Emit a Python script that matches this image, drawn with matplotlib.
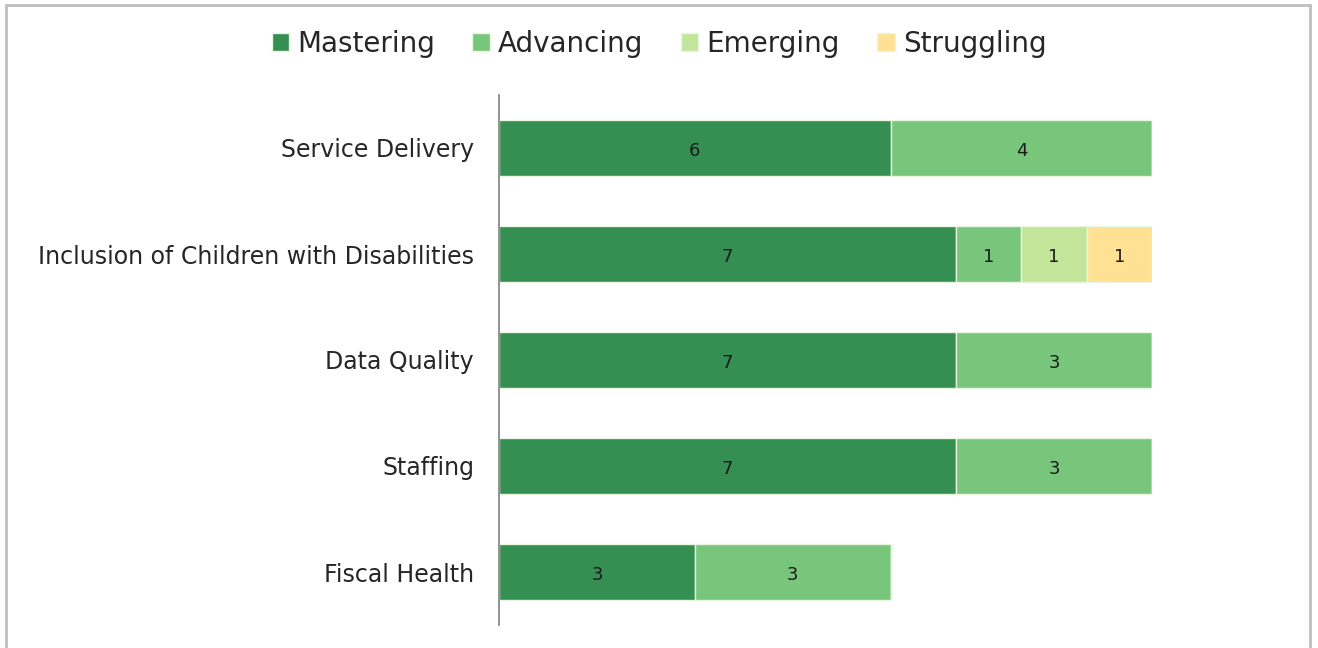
import matplotlib.pyplot as plt
from matplotlib.patches import Rectangle

categories = ["Service Delivery", "Inclusion of Children with Disabilities",
              "Data Quality", "Staffing", "Fiscal Health"]
mastering = [6, 7, 7, 7, 3]
advancing = [4, 1, 3, 3, 3]
emerging = [0, 1, 0, 0, 0]
struggling = [0, 1, 0, 0, 0]

series = [("Mastering", mastering, "#358f53"),
          ("Advancing", advancing, "#78c67b"),
          ("Emerging", emerging, "#c2e59a"),
          ("Struggling", struggling, "#ffe194")]

fig = plt.figure(figsize=(13.18, 6.48), dpi=100)
ax = fig.add_axes([499 / 1318, 1 - 625 / 648, (1152 - 499) / 1318, (625 - 95) / 648])

# outer grey frame (bottom edge is cut off in the original)
fig.patches.append(Rectangle((6 / 1318, -0.05), (1310 - 6) / 1318, 1.05 - 5 / 648,
                             transform=fig.transFigure, fill=False,
                             edgecolor="#bfbfbf", linewidth=2))

y = list(range(len(categories)))
left = [0] * len(categories)
for name, vals, color in series:
    bars = ax.barh(y, vals, left=left, height=0.53, color=color,
                   edgecolor="#e8f5e0", linewidth=1, label=name)
    for b, v in zip(bars, vals):
        if v > 0:
            ax.text(b.get_x() + b.get_width() / 2, b.get_y() + b.get_height() / 2 + 0.03,
                    str(v), ha="center", va="center", fontsize=13, color="#1a1a1a")
    left = [l + v for l, v in zip(left, vals)]

ax.set_xlim(0, 10)
ax.set_ylim(len(categories) - 0.5, -0.5)
ax.set_yticks(y)
ax.set_yticklabels(categories, fontsize=17, color="#262626")
ax.tick_params(axis="y", length=0, pad=18)
ax.set_xticks([])
for s in ["top", "right", "bottom"]:
    ax.spines[s].set_visible(False)
ax.spines["left"].set_color("#808080")
ax.spines["left"].set_linewidth(1.2)

fig.legend(loc="center", bbox_to_anchor=(0.5, 1 - 44 / 648), ncol=4, frameon=False,
           fontsize=20, handlelength=0.62, handleheight=0.62, handletextpad=0.3,
           columnspacing=1.35, labelcolor="#262626")

fig.savefig("out.png", dpi=100)
